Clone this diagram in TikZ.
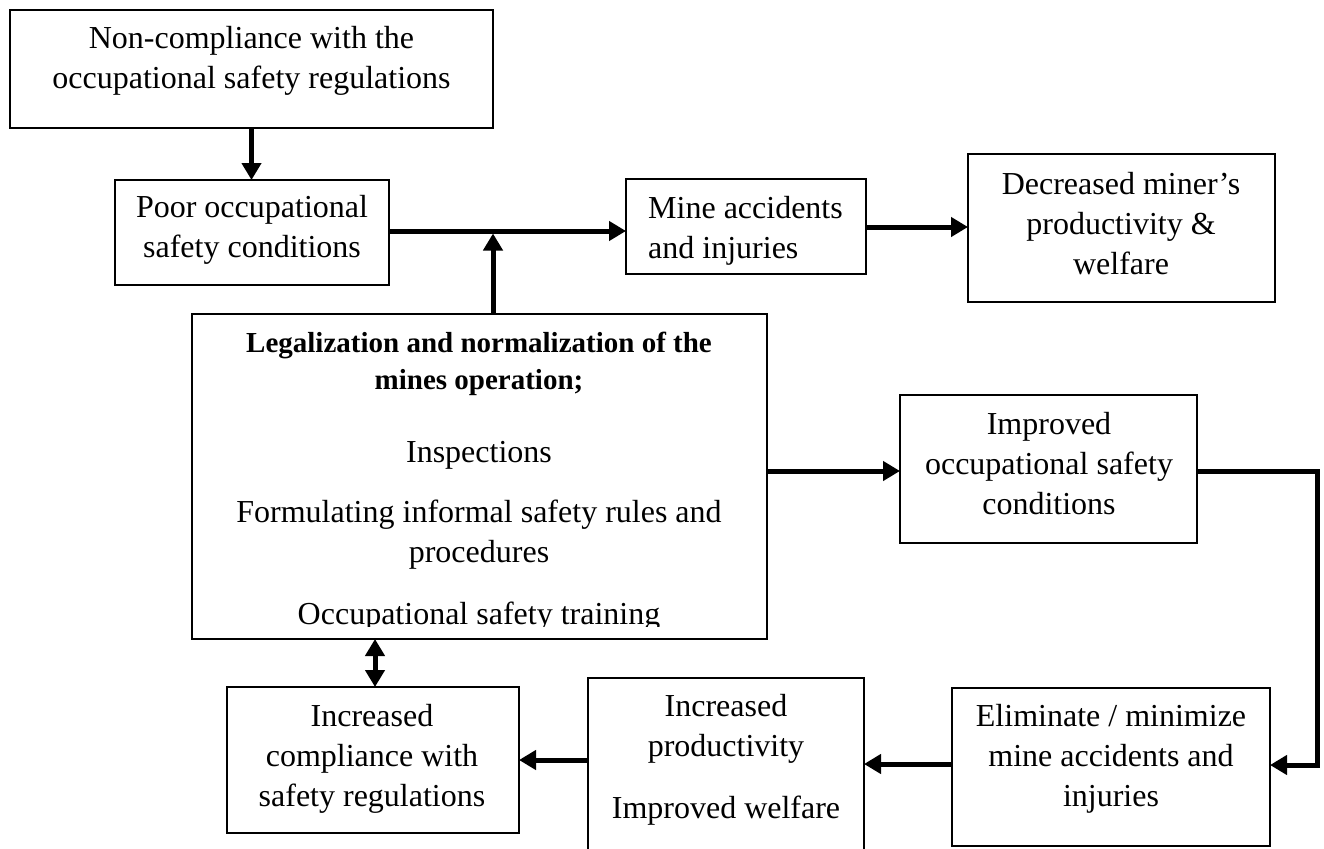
\documentclass[tikz,border=0pt]{standalone}
\usepackage{fontspec}
\setmainfont{Liberation Serif}
\usetikzlibrary{arrows.meta}
\begin{document}
\begin{tikzpicture}[x=1pt,y=-1pt,
  box/.style={draw, line width=2pt, inner sep=0pt, outer sep=0pt, rectangle},
  thinbox/.style={draw, line width=1.1pt, inner sep=0pt, outer sep=0pt, rectangle},
  txt/.style={inner sep=0pt, align=center, font=\fontsize{32}{40}\selectfont},
  btxt/.style={inner sep=0pt, align=center, font=\fontsize{29}{37}\selectfont\bfseries},
  tip/.style={Triangle[length=17pt,width=19pt]},
  conn/.style={line width=5pt, -{Triangle[length=17pt,width=19pt]}},
  dconn/.style={line width=5pt, {Triangle[length=17pt,width=19pt]}-{Triangle[length=17pt,width=19pt]}},
  link/.style={line width=5pt}
]
\useasboundingbox (0,0) rectangle (1324,848);
\clip (0,0) rectangle (1324,848);

% boxes
\node[box, minimum width=483pt, minimum height=118pt] (b1) at (251.5,69) {};
\node[box, minimum width=274pt, minimum height=105pt] (b2) at (252,232.5) {};
\node[box, minimum width=240pt, minimum height=95pt] (b3) at (746,226.5) {};
\node[box, minimum width=307pt, minimum height=148pt] (b4) at (1121.5,228) {};
\node[box, minimum width=575pt, minimum height=325pt] (b5) at (479.5,476.5) {};
\node[box, minimum width=297pt, minimum height=148pt] (b6) at (1048.5,469) {};
\node[box, minimum width=318pt, minimum height=158pt] (b7) at (1111,767) {};
\node[box, minimum width=276pt, minimum height=192pt] (b8) at (726,774) {};
\node[thinbox, minimum width=292pt, minimum height=146pt] (b9) at (373,760) {};

% texts
\node[txt] (t1) at (251.5,61) {Non-compliance with the\\occupational safety regulations};
\node[txt] (t2) at (252,230) {Poor occupational\\safety conditions};
\node[txt, align=left, anchor=west] (t3) at (648,231) {Mine accidents\\and injuries};
\node[txt] (t4) at (1121,224) {Decreased miner’s\\productivity \&\\welfare};
\node[btxt] (tb1) at (479,363.5) {Legalization and normalization of the\\mines operation;};
\node[txt] (tb2) at (479,455) {Inspections};
\node[txt] (tb3) at (479,535) {Formulating informal safety rules and\\procedures};
\begin{scope}
  \clip (193,590) rectangle (767,626);
  \node[txt, anchor=base] (tb4) at (479,624) {Occupational safety training};
\end{scope}
\node[txt] (t6) at (1049,464) {Improved\\occupational safety\\conditions};
\node[txt] (t7) at (1111,759) {Eliminate / minimize\\mine accidents and\\injuries};
\node[txt] (t8) at (726,760) {Increased\\productivity\\[22pt]Improved welfare};
\node[txt] (t9) at (372,758.5) {Increased\\compliance with\\safety regulations};

% helper coordinates
\coordinate (yA) at (0,231);
\coordinate (jx) at (493,0);
\coordinate (jt) at (493,233.5);
\coordinate (yB) at (0,227);
\coordinate (yC) at (0,471);
\coordinate (rx) at (1317,0);
\coordinate (yD) at (0,765);
\coordinate (yE) at (0,764);
\coordinate (yF) at (0,760);
\coordinate (dx) at (375,0);

% connectors
\draw[conn] (b1.south) -- (b1.south |- b2.north);
\draw[conn] (b2.east |- yA) -- (b3.west |- yA);
\draw[conn] (b5.north -| jx) -- (jt);
\draw[conn] (b3.east |- yB) -- (b4.west |- yB);
\draw[conn] (b5.east |- yC) -- (b6.west |- yC);
\draw[conn] (b6.east |- yC) -- (rx |- yC) -- (rx |- yD) -- (b7.east |- yD);
\draw[conn] (b7.west |- yE) -- (b8.east |- yE);
\draw[conn] (b8.west |- yF) -- (b9.east |- yF);
\draw[dconn] (b5.south -| dx) -- (b9.north -| dx);
\end{tikzpicture}
\end{document}
